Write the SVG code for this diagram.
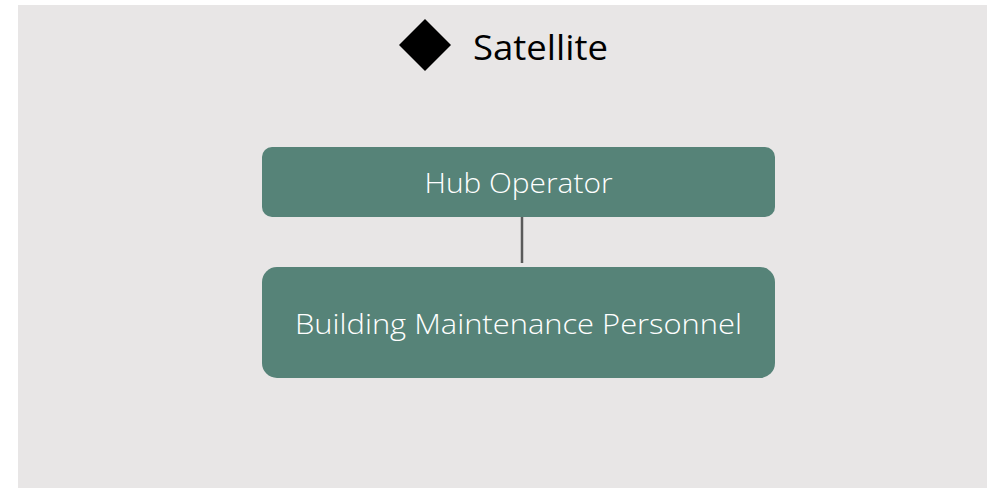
<svg xmlns="http://www.w3.org/2000/svg" width="989" height="488" viewBox="0 0 989 488">
<style>
.bg{fill:#e8e6e6}
.node{fill:#568378}
.lbl{font-family:"Open Sans","Liberation Sans",sans-serif;font-weight:300;fill:#ffffff;text-anchor:middle;font-size:28px}
.title{font-family:"Open Sans","Liberation Sans",sans-serif;font-size:34px;fill:#000000}
.conn{stroke:#5a5a5a;stroke-width:2.5;fill:none}
</style>
<rect width="989" height="488" fill="#ffffff"/>
<rect class="bg" x="18" y="5" width="969" height="483"/>
<g id="title">
<polygon points="425,19 451,45 425,71 399,45" fill="#000000"/>
<text class="title" x="473" y="60" textLength="135" lengthAdjust="spacingAndGlyphs">Satellite</text>
</g>
<g id="connectors">
<line class="conn" x1="522" y1="216" x2="522" y2="263"/>
</g>
<g id="hub-operator">
<rect class="node" x="262" y="147" width="513" height="70" rx="10"/>
<text class="lbl" x="518.5" y="193" textLength="188" lengthAdjust="spacingAndGlyphs">Hub Operator</text>
</g>
<g id="building-maintenance">
<rect class="node" x="262" y="267" width="513" height="111" rx="15"/>
<text class="lbl" x="518.5" y="334" textLength="447" lengthAdjust="spacingAndGlyphs">Building Maintenance Personnel</text>
</g>
</svg>
